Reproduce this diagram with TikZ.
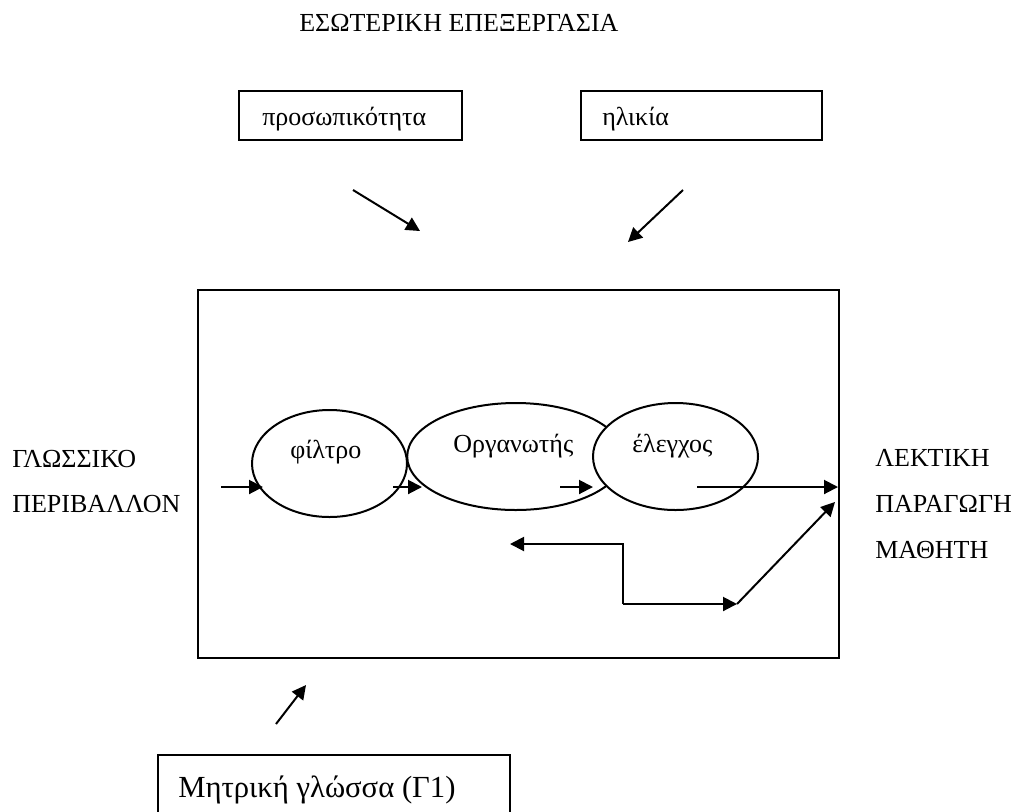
\documentclass[tikz,border=0pt]{standalone}
\usepackage{fontspec}
\setmainfont{Liberation Serif}
\usetikzlibrary{arrows.meta,shapes.geometric}
\begin{document}
\begin{tikzpicture}[x=0.75pt,y=-0.75pt,
  ln/.style={line width=1.5pt},
  arr/.style={ln,-{Triangle[length=10.5pt,width=10.5pt]}},
  txt/.style={anchor=base west,inner sep=0pt,font=\fontsize{19.5}{23}\selectfont},
  bigtxt/.style={anchor=base west,inner sep=0pt,font=\fontsize{23}{27}\selectfont},
  oval/.style={ellipse,draw,ln,fill=white,inner sep=0pt},
  boxr/.style={draw,ln,inner sep=0pt,anchor=north west}]
\path[use as bounding box,clip] (0,0) rectangle (1019,811);
% title
\node[txt] (title) at (299,31) {ΕΣΩΤΕΡΙΚΗ ΕΠΕΞΕΡΓΑΣΙΑ};
% top boxes
\node[boxr,minimum width=167.25pt,minimum height=36.75pt] (pbox) at (238,90) {};
\node[txt] (ptxt) at (262,125) {προσωπικότητα};
\node[boxr,minimum width=180.75pt,minimum height=36.75pt] (hbox) at (580,90) {};
\node[txt] (htxt) at (602,125) {ηλικία};
% top arrows
\coordinate (t1s) at (353,190); \coordinate (t1e) at (420,231);
\coordinate (t2s) at (683,190); \coordinate (t2e) at (628,242);
\draw[arr] (t1s) -- (t1e);
\draw[arr] (t2s) -- (t2e);
% main box
\node[boxr,minimum width=480.75pt,minimum height=276pt] (main) at (197,289) {};
% ellipses
\node[oval,minimum width=116.25pt,minimum height=80.25pt] (filtro) at (329.5,463.5) {};
\node[oval,minimum width=162.75pt,minimum height=80.25pt] (org) at (515.7,456.5) {};
\node[oval,minimum width=123.75pt,minimum height=80.25pt] (eleg) at (675.5,456.5) {};
\node[txt] (ftxt) at (290,458) {φίλτρο};
\node[txt] (otxt) at (453,452) {Οργανωτής};
\node[txt] (etxt) at (632,452) {έλεγχος};
% side texts
\node[txt] (l1) at (12,467) {ΓΛΩΣΣΙΚΟ};
\node[txt] (l2) at (12,512) {ΠΕΡΙΒΑΛΛΟΝ};
\node[txt] (r1) at (875,466) {ΛΕΚΤΙΚΗ};
\node[txt] (r2) at (875,512) {ΠΑΡΑΓΩΓΗ};
\node[txt] (r3) at (875,558) {ΜΑΘΗΤΗ};
% inner arrows
\coordinate (a1s) at (221,487); \coordinate (a1e) at (263,487);
\coordinate (a2s) at (393,487); \coordinate (a2e) at (422,487);
\coordinate (a3s) at (560,487); \coordinate (a3e) at (593,487);
\coordinate (a4s) at (697,487); \coordinate (a4e) at (838,487);
\draw[arr] (a1s) -- (a1e);
\draw[arr] (a2s) -- (a2e);
\draw[arr] (a3s) -- (a3e);
\draw[arr] (a4s) -- (a4e);
\coordinate (k1) at (623,604); \coordinate (k2) at (623,544);
\coordinate (k3) at (510,544); \coordinate (k4) at (737,604);
\coordinate (k5) at (835,502);
\draw[arr] (k1) -- (k2) -- (k3);
\draw[arr] (k1) -- (k4);
\draw[arr] (k4) -- (k5);
% bottom
\coordinate (b1s) at (276,724); \coordinate (b1e) at (306,685);
\draw[arr] (b1s) -- (b1e);
\node[boxr,minimum width=264pt,minimum height=60pt] (mbox) at (157,754) {};
\node[bigtxt] (mtxt) at (178,797) {Μητρική γλώσσα (Γ1)};
\end{tikzpicture}
\end{document}
